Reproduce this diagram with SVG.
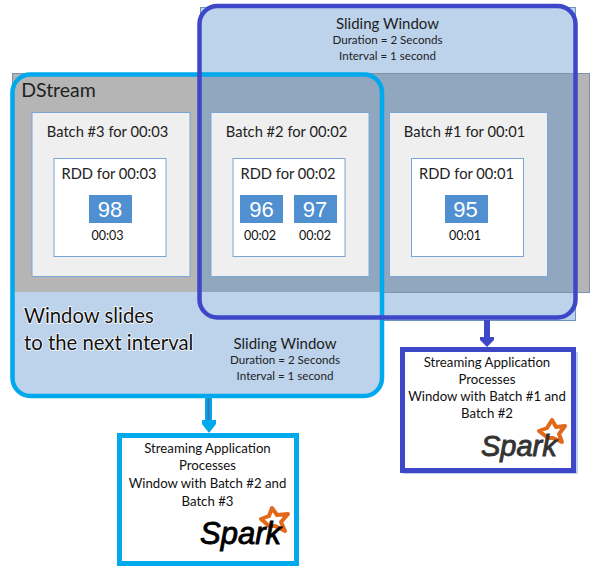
<svg xmlns="http://www.w3.org/2000/svg" width="597" height="570" viewBox="0 0 597 570">
<defs>
<style>
text{font-family:"Lato","Open Sans","Liberation Sans",sans-serif;fill:#222;text-anchor:middle}
.batch{fill:#efefef;stroke:#7ba5d6;stroke-width:1}
.rdd{fill:#fff;stroke:#7ba5d6;stroke-width:1}
.cell{fill:#5090d0}
.num{font-size:22px;fill:#fff;font-family:"Liberation Sans",sans-serif}
.t14{font-size:14.700px}
.t11{font-size:12.500px;fill:#111}
.sw{font-size:15px}
.d{font-size:11.600px}
.app{font-size:13.200px;fill:#111}
.spark{font-family:"Liberation Sans",sans-serif;font-style:italic;text-anchor:start;stroke-width:.9}
.star{fill:none;stroke:#e2681c;stroke-width:4;stroke-linejoin:round}
.big{font-size:20.300px;text-anchor:start;fill:#111;stroke:#fff;stroke-width:1.500;paint-order:stroke}
</style>
</defs>

<g id="backgrounds">
<rect x="200.500" y="7.500" width="375" height="313" fill="#bdd3ec" stroke="#6d93bb" stroke-width="1"/>
<rect x="12.500" y="73.500" width="577" height="219" fill="#b5b5b5" stroke="#7f93a8" stroke-width="1"/>
<rect x="12.500" y="292" width="369.500" height="104" rx="18" fill="#bdd3ec"/>
<rect x="12.500" y="292" width="369.500" height="30" fill="#bdd3ec"/>
<rect x="200" y="74" width="375.500" height="218" fill="#91a7bf"/>
<rect x="403" y="352" width="175" height="122" fill="#bdd3ec"/>
</g>

<g id="dstream-label"><text x="58.500" y="97" style="font-size:19.500px">DStream</text></g>

<g id="batch3">
<rect class="batch" x="32" y="112.500" width="158" height="164"/>
<text class="t14" x="107.500" y="137">Batch #3 for 00:03</text>
<rect class="rdd" x="54" y="158.500" width="112" height="98"/>
<text class="t14" x="109" y="179">RDD for 00:03</text>
<rect class="cell" x="89" y="195" width="43" height="28"/>
<text class="num" x="110" y="217">98</text>
<text class="t11" x="107.500" y="240">00:03</text>
</g>

<g id="batch2">
<rect class="batch" x="211" y="112.500" width="158" height="164"/>
<text class="t14" x="286.500" y="137">Batch #2 for 00:02</text>
<rect class="rdd" x="233" y="158.500" width="112" height="98"/>
<text class="t14" x="288" y="179">RDD for 00:02</text>
<rect class="cell" x="240" y="195" width="43" height="28"/>
<text class="num" x="261.500" y="217">96</text>
<text class="t11" x="260" y="240">00:02</text>
<rect class="cell" x="294" y="195" width="43" height="28"/>
<text class="num" x="315" y="217">97</text>
<text class="t11" x="315" y="240">00:02</text>
</g>

<g id="batch1">
<rect class="batch" x="389.500" y="112.500" width="158" height="164"/>
<text class="t14" x="464.500" y="137">Batch #1 for 00:01</text>
<rect class="rdd" x="411.500" y="158.500" width="112" height="98"/>
<text class="t14" x="466.500" y="179">RDD for 00:01</text>
<rect class="cell" x="445" y="195" width="43" height="28"/>
<text class="num" x="465.500" y="217">95</text>
<text class="t11" x="465" y="240">00:01</text>
</g>

<g id="window-labels">
<text class="sw" x="387.500" y="29">Sliding Window</text>
<text class="d" x="387.500" y="44">Duration = 2 Seconds</text>
<text class="d" x="387.500" y="60">Interval = 1 second</text>
<text class="sw" x="285" y="349">Sliding Window</text>
<text class="d" x="285" y="364">Duration = 2 Seconds</text>
<text class="d" x="285" y="380">Interval = 1 second</text>
<text class="big" x="24" y="323">Window slides</text>
<text class="big" x="24" y="350">to the next interval</text>
</g>

<g id="connectors">
<rect x="205" y="397" width="7" height="25" fill="#00a8ec"/>
<rect x="207.500" y="397" width="2" height="25" fill="#3f6fb0"/>
<path d="M202,420H216L216,424L209,433L202,424Z" fill="#00a8ec"/>
<rect x="484" y="320" width="6" height="18" fill="#3f47c9"/>
<path d="M480,337H494L494,340L487,347L480,340Z" fill="#3f47c9"/>
</g>

<g id="window-cyan"><rect x="12.500" y="74.500" width="369.500" height="321.500" rx="18" fill="none" stroke="#00a8ec" stroke-width="4.500"/></g>
<g id="window-blue"><rect x="199.500" y="6" width="376" height="311.500" rx="18" fill="none" stroke="#3f47c9" stroke-width="4.500"/></g>

<g id="app-cyan">
<rect x="119.500" y="435.500" width="177" height="128" fill="#fff" stroke="#00a8ec" stroke-width="5"/>
<text class="app" x="207.500" y="453">Streaming Application</text>
<text class="app" x="207.500" y="470">Processes</text>
<text class="app" x="207.500" y="488">Window with Batch #2 and</text>
<text class="app" x="207.500" y="506">Batch #3</text>
<polygon class="star" points="261,519 269,516 272,508 277,515 288,514 281,522 285,531 275,526 269,526"/>
<text class="spark" x="200" y="544" style="fill:#000;stroke:#000;font-size:31px">Spark</text>
</g>

<g id="app-blue">
<rect x="402.500" y="349.500" width="171" height="121" fill="#fff" stroke="#3f47c9" stroke-width="5"/>
<text class="app" x="487" y="367">Streaming Application</text>
<text class="app" x="487" y="384">Processes</text>
<text class="app" x="487" y="401">Window with Batch #1 and</text>
<text class="app" x="487" y="418">Batch #2</text>
<polygon class="star" points="539,431 547,428 552,420 556,427 565,426 559,434 562,442 553,438 548,438"/>
<text class="spark" x="481" y="456" style="fill:#333;stroke:#333;font-size:29px">Spark</text>
</g>
</svg>
